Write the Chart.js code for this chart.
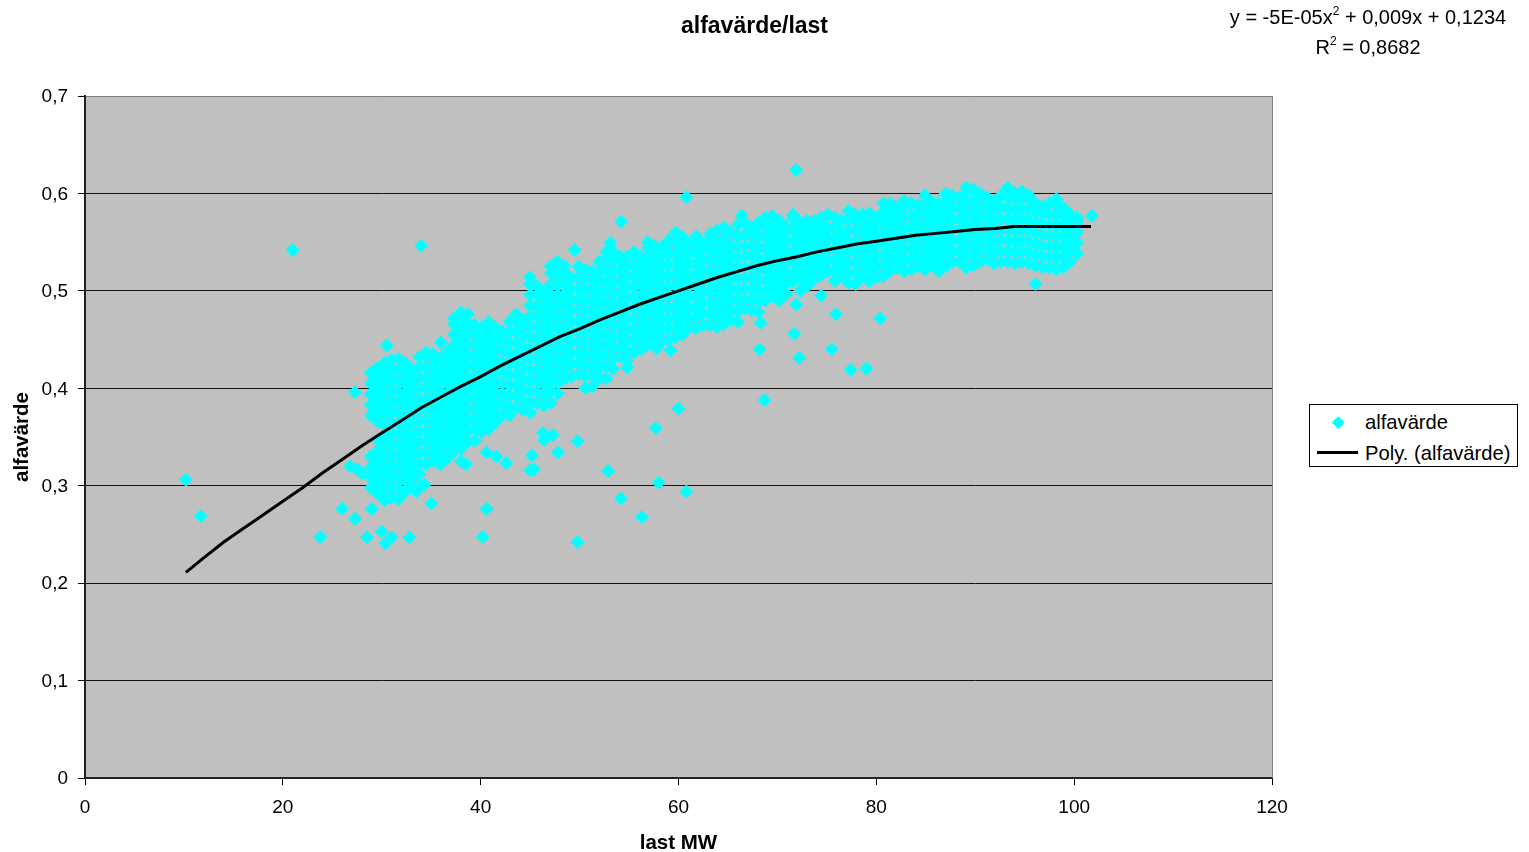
<!DOCTYPE html>
<html lang="sv">
<head>
  <meta charset="UTF-8">
  <title>alfavärde/last</title>
  <script src="https://cdn.jsdelivr.net/npm/chart.js"></script>
  <style>
    html, body { margin: 0; padding: 0; background: #fff; }
    body { font-family: "Liberation Sans", Arial, sans-serif; color: #000; }
    #wrap { position: relative; width: 1529px; height: 852px; overflow: hidden; }
    #chart { position: absolute; left: 0; top: 0; }
    #titel { position: absolute; left: 554.5px; width: 400px; top: 12px; text-align: center; font-weight: bold; font-size: 23px; line-height: 26px; }
    #ekv { position: absolute; left: 1168px; width: 400px; top: 2px; text-align: center; font-size: 20px; line-height: 30px; }
    #ekv sup { font-size: 12px; line-height: 0; position: relative; top: -1px; vertical-align: super; }
    #legend { position: absolute; left: 1309px; top: 404px; width: 207px; height: 61px; border: 1px solid #000; font-size: 20.2px; background: #fff; }
    #legend div { position: absolute; }
    .namn { left: 55px; white-space: nowrap; line-height: 24px; }
    #diamant { left: 24px; top: 13px; width: 8.5px; height: 8.5px; background: #00ffff; transform: rotate(45deg); }
    #linje { left: 7px; top: 46px; width: 41px; height: 3px; background: #000; }
  </style>
</head>
<body>
  <div id="wrap">
    <canvas id="chart" width="1529" height="852"></canvas>
    <div id="titel">alfavärde/last</div>
    <div id="ekv">y = -5E-05x<sup>2</sup> + 0,009x + 0,1234<br>R<sup>2</sup> = 0,8682</div>
    <div id="legend">
      <div id="diamant"></div><div class="namn" id="n1" style="top:5px"></div>
      <div id="linje"></div><div class="namn" id="n2" style="top:36px"></div>
    </div>
  </div>

  <script>
    const serieNamn = "alfavärde";
    const trendNamn = "Poly. (alfavärde)";

    // enstaka punkter utanför molnet
    const enstakaLast = [10.2,11.7,21,34,23.8,26,27.3,27.3,28.5,29,30,30.4,31,32.8,30.5,26.8,27.5,28,35,34.3,33.5,40.2,40.6,49.8,38,38.5,40.6,41.6,42.6,45.2,45,45.4,46.3,46.4,47.3,49.8,47.8,52.9,54.2,56.3,57.7,58,60,60.8,54.8,57.8,59.2,49.5,53.1,71.9,60.8,54.2,66.4,68.2,68.3,68.7,71.7,72.2,71.9,74.4,75.9,75.5,77.4,79,80.4,96.1,101.8,36];
    const enstakaAlfa = [.306,.269,.542,.546,.247,.276,.266,.396,.247,.276,.253,.241,.247,.247,.444,.32,.317,.313,.282,.301,.294,.247,.276,.242,.325,.322,.334,.33,.323,.331,.316,.317,.354,.347,.352,.346,.334,.315,.287,.268,.359,.303,.379,.294,.421,.441,.439,.542,.549,.624,.596,.571,.577,.44,.467,.388,.456,.431,.486,.495,.476,.44,.419,.42,.472,.507,.577,.447];

    // molnet, kolumn för kolumn
    const molnLast = [28.9,29.6,30.3,31,31.7,32.4,33.1,33.8,34.5,35.2,35.9,36.6,37.3,38,38.7,39.4,40.1,40.8,41.5,42.2,42.9,43.6,44.3,45,45.7,46.4,47.1,47.8,48.5,49.2,49.9,50.6,51.3,52,52.7,53.4,54.1,54.8,55.5,56.2,56.9,57.6,58.3,59,59.7,60.4,61.1,61.8,62.5,63.2,63.9,64.6,65.3,66,66.7,67.4,68.1,68.8,69.5,70.2,70.9,71.6,72.3,73,73.7,74.4,75.1,75.8,76.5,77.2,77.9,78.6,79.3,80,80.7,81.4,82.1,82.8,83.5,84.2,84.9,85.6,86.3,87,87.7,88.4,89.1,89.8,90.5,91.2,91.9,92.6,93.3,94,94.7,95.4,96.1,96.8,97.5,98.2,98.9,99.6,100.3];
    const molnAlfa = [
      [.298,.308,.319,.330,.372,.383,.394,.405,.416],
      [.292,.303,.314,.325,.336,.347,.366,.377,.388,.399,.410,.421],
      [.285,.296,.307,.318,.329,.340,.351,.362,.373,.384,.395,.406,.417,.426],
      [.288,.299,.310,.321,.332,.343,.354,.365,.376,.387,.398,.409,.420,.429],
      [.286,.297,.308,.319,.330,.341,.352,.363,.374,.385,.396,.407,.418,.430],
      [.294,.305,.316,.327,.338,.349,.360,.371,.382,.393,.404,.415,.426],
      [.298,.309,.320,.331,.342,.353,.364,.375,.386,.397,.408,.419],
      [.300,.312,.323,.334,.345,.356,.367,.378,.389,.400,.411,.422,.432],
      [.322,.333,.344,.355,.366,.377,.388,.399,.410,.421,.432,.437],
      [.325,.336,.347,.358,.369,.380,.391,.402,.413,.424,.435],
      [.322,.331,.342,.353,.364,.375,.386,.397,.408,.419,.430],
      [.328,.339,.350,.361,.372,.383,.394,.405,.416,.427,.438],
      [.335,.345,.356,.367,.378,.389,.400,.411,.422,.433,.444,.455,.466,.472],
      [.338,.350,.361,.372,.383,.394,.405,.416,.427,.438,.449,.460,.471,.478],
      [.345,.356,.367,.378,.389,.400,.411,.422,.433,.444,.455,.466,.476],
      [.346,.358,.369,.380,.391,.402,.413,.424,.435,.446,.457,.465],
      [.355,.364,.375,.386,.397,.408,.419,.430,.441,.452,.462],
      [.358,.369,.380,.391,.402,.413,.424,.435,.446,.457,.468],
      [.365,.374,.385,.396,.407,.418,.429,.440,.451,.462],
      [.372,.383,.394,.405,.416,.427,.438,.449,.458],
      [.372,.381,.392,.403,.414,.425,.436,.447,.458,.468],
      [.380,.391,.402,.413,.424,.435,.446,.457,.468,.476],
      [.378,.388,.399,.410,.421,.432,.443,.454,.465,.470],
      [.375,.386,.397,.408,.419,.430,.441,.452,.463,.474,.485,.496,.507,.514],
      [.385,.396,.407,.418,.429,.440,.451,.462,.473,.484,.495,.505],
      [.382,.393,.404,.415,.426,.437,.448,.459,.470,.481,.492,.500],
      [.385,.397,.408,.419,.430,.441,.452,.463,.474,.485,.496,.507,.518,.525],
      [.395,.406,.417,.428,.439,.450,.461,.472,.483,.494,.505,.516,.527,.530],
      [.410,.420,.431,.442,.453,.464,.475,.486,.497,.508,.519,.525],
      [.412,.425,.436,.447,.458,.469,.480,.491,.502,.513],
      [.415,.426,.437,.448,.459,.470,.481,.492,.503,.514,.525],
      [.400,.412,.423,.434,.445,.456,.467,.478,.489,.500,.511,.522],
      [.402,.414,.425,.436,.447,.458,.469,.480,.491,.502,.513,.520],
      [.410,.421,.432,.443,.454,.465,.476,.487,.498,.509,.520,.530],
      [.410,.423,.434,.445,.456,.467,.478,.489,.500,.511,.522,.533,.540],
      [.420,.431,.442,.453,.464,.475,.486,.497,.508,.519,.530,.540],
      [.432,.443,.454,.465,.476,.487,.498,.509,.520,.531,.535],
      [.428,.438,.449,.460,.471,.482,.493,.504,.515,.526,.535],
      [.437,.448,.459,.470,.481,.492,.503,.514,.525,.536,.540],
      [.440,.451,.462,.473,.484,.495,.506,.517,.528,.535],
      [.445,.456,.467,.478,.489,.500,.511,.522,.533,.544,.550],
      [.445,.453,.464,.475,.486,.497,.508,.519,.530,.541,.546],
      [.448,.459,.470,.481,.492,.503,.514,.525,.536,.545],
      [.450,.461,.472,.483,.494,.505,.516,.527,.538,.549,.552],
      [.452,.462,.473,.484,.495,.506,.517,.528,.539,.550,.560],
      [.455,.466,.477,.488,.499,.510,.521,.532,.543,.555],
      [.463,.472,.483,.494,.505,.516,.527,.538,.548],
      [.462,.473,.484,.495,.506,.517,.528,.539,.550,.556],
      [.465,.477,.488,.499,.510,.521,.532,.543,.548],
      [.465,.476,.487,.498,.509,.520,.531,.542,.553,.558],
      [.463,.473,.484,.495,.506,.517,.528,.539,.550,.562],
      [.466,.477,.488,.499,.510,.521,.532,.543,.554,.565],
      [.470,.481,.492,.503,.514,.525,.536,.547,.560],
      [.468,.479,.490,.501,.512,.523,.534,.545,.556,.568],
      [.482,.491,.502,.513,.524,.535,.546,.557,.570],
      [.480,.492,.503,.514,.525,.536,.547,.558,.565],
      [.478,.489,.500,.511,.522,.533,.544,.555,.566,.570],
      [.490,.500,.511,.522,.533,.544,.555,.566,.575],
      [.495,.506,.517,.528,.539,.550,.561,.572,.577],
      [.490,.501,.512,.523,.534,.545,.556,.567,.572],
      [.497,.507,.518,.529,.540,.551,.562,.565],
      [.510,.519,.530,.541,.552,.563,.574,.578],
      [.500,.512,.523,.534,.545,.556,.567,.570],
      [.505,.516,.527,.538,.549,.560,.572],
      [.512,.522,.533,.544,.555,.566,.572],
      [.516,.527,.538,.549,.560,.571,.575],
      [.520,.531,.542,.553,.564,.578],
      [.510,.521,.532,.543,.554,.565,.575],
      [.515,.526,.537,.548,.559,.572],
      [.508,.519,.530,.541,.552,.563,.574,.582],
      [.507,.518,.529,.540,.551,.562,.573,.578],
      [.515,.526,.537,.548,.559,.570,.578],
      [.510,.521,.532,.543,.554,.565,.576,.580],
      [.514,.525,.536,.547,.558,.569,.575],
      [.515,.526,.537,.548,.559,.570,.581,.590],
      [.520,.531,.542,.553,.564,.575,.586,.590],
      [.524,.535,.546,.557,.568,.579,.585],
      [.520,.531,.542,.553,.564,.575,.586,.592],
      [.522,.533,.544,.555,.566,.577,.590],
      [.525,.536,.547,.558,.569,.580,.588],
      [.522,.533,.544,.555,.566,.577,.588,.598],
      [.526,.537,.548,.559,.570,.581,.592],
      [.520,.531,.542,.553,.564,.575,.586,.590],
      [.525,.536,.547,.558,.569,.580,.591,.600],
      [.530,.541,.552,.563,.574,.585,.596,.598],
      [.530,.541,.552,.563,.574,.585,.595],
      [.524,.535,.546,.557,.568,.579,.590,.601,.606],
      [.526,.537,.548,.559,.570,.581,.592,.604],
      [.530,.541,.552,.563,.574,.585,.596,.600],
      [.532,.543,.554,.565,.576,.587,.596],
      [.528,.539,.550,.561,.572,.583,.592],
      [.530,.541,.552,.563,.574,.585,.596,.598],
      [.530,.541,.552,.563,.574,.585,.596,.606],
      [.528,.539,.550,.561,.572,.583,.594,.600],
      [.530,.541,.552,.563,.574,.585,.596,.602],
      [.528,.539,.550,.561,.572,.583,.594,.598],
      [.526,.537,.548,.559,.570,.581,.590],
      [.524,.535,.546,.557,.568,.579,.586],
      [.524,.535,.546,.557,.568,.579,.590],
      [.522,.533,.544,.555,.566,.577,.588,.594],
      [.524,.535,.546,.557,.568,.579,.585],
      [.530,.541,.552,.563,.574,.578],
      [.538,.549,.560,.571,.575]
    ];

    // trendlinjen
    const trendLast = [10.2,12,14,16,18,20,22,24,26,28,30,32,34,36,38,40,42,44,46,48,50,52,54,56,58,60,62,64,66,68,70,72,74,76,78,80,82,84,86,88,90,92,94,96,98,100,101.7];
    const trendAlfa = [.211,.226,.242,.256,.270,.284,.298,.313,.327,.341,.354,.367,.380,.391,.402,.412,.423,.433,.443,.453,.461,.470,.478,.486,.493,.500,.507,.514,.520,.526,.531,.535,.540,.544,.548,.551,.554,.557,.559,.561,.563,.564,.566,.566,.566,.566,.566];

    const xTicks = [0,20,40,60,80,100,120];
    const yTicks = [0,0.1,0.2,0.3,0.4,0.5,0.6,0.7];

    document.getElementById("n1").innerText = serieNamn;
    document.getElementById("n2").innerText = trendNamn;

    const punkter = enstakaLast.map((x, i) => ({ x: x, y: enstakaAlfa[i] }));
    molnLast.forEach((x, i) => {
      molnAlfa[i].forEach(y => punkter.push({ x: x, y: y }));
    });
    const trend = trendLast.map((x, i) => ({ x: x, y: trendAlfa[i] }));

    const font = { family: "'Liberation Sans', Arial, sans-serif", size: 19 };

    const ytan = {
      id: "ytan",
      beforeDraw(c) {
        const a = c.chartArea;
        c.ctx.fillStyle = "#c0c0c0";
        c.ctx.fillRect(a.left, a.top, a.right - a.left, a.bottom - a.top);
      },
      afterDraw(c) {
        const a = c.chartArea;
        c.ctx.strokeStyle = "#808080";
        c.ctx.lineWidth = 1;
        c.ctx.beginPath();
        c.ctx.moveTo(a.right + 0.5, a.top);
        c.ctx.lineTo(a.right + 0.5, a.bottom);
        c.ctx.stroke();
      }
    };

    new Chart(document.getElementById("chart"), {
      type: "scatter",
      plugins: [ytan],
      data: {
        datasets: [
          { label: trendNamn, data: trend, showLine: true, borderColor: "#000", borderWidth: 3, pointRadius: 0, order: 0 },
          { label: serieNamn, data: punkter, pointStyle: "rectRot", pointRadius: 7, pointBorderWidth: 0, backgroundColor: "#00ffff", borderColor: "#00ffff", order: 1 }
        ]
      },
      options: {
        responsive: false,
        animation: false,
        layout: { padding: { top: 96, right: 257, left: 0, bottom: 0 } },
        plugins: { legend: { display: false }, title: { display: false }, tooltip: { enabled: false } },
        scales: {
          x: {
            type: "linear", min: 0, max: 120,
            afterFit(s) { s.height = 74; },
            afterBuildTicks(s) { s.ticks = xTicks.map(v => ({ value: v })); },
            grid: { drawOnChartArea: false, color: "#000", tickLength: 7 },
            border: { color: "#222", width: 2 },
            ticks: { color: "#000", font: font, padding: 11, maxRotation: 0, autoSkip: false },
            title: { display: true, text: "last MW", color: "#000", font: { family: font.family, size: 20.5, weight: "bold", lineHeight: 1 }, padding: { top: 0, bottom: -2 } }
          },
          y: {
            type: "linear", min: 0, max: 0.7,
            afterFit(s) { s.width = 85; },
            afterBuildTicks(s) { s.ticks = yTicks.map(v => ({ value: v })); },
            grid: { color: c => c.tick && c.tick.value === 0.7 ? "#808080" : "#111", tickColor: "#000", tickLength: 7, lineWidth: 1 },
            border: { color: "#222", width: 2 },
            ticks: { color: "#000", font: font, padding: 10, autoSkip: false, labelOffset: 1, callback: v => String(v).replace(".", ",") },
            title: { display: true, text: "alfavärde", color: "#000", font: { family: font.family, size: 20.5, weight: "bold", lineHeight: 1 }, padding: { top: 12, bottom: 0 } }
          }
        }
      }
    });
  </script>
</body>
</html>
